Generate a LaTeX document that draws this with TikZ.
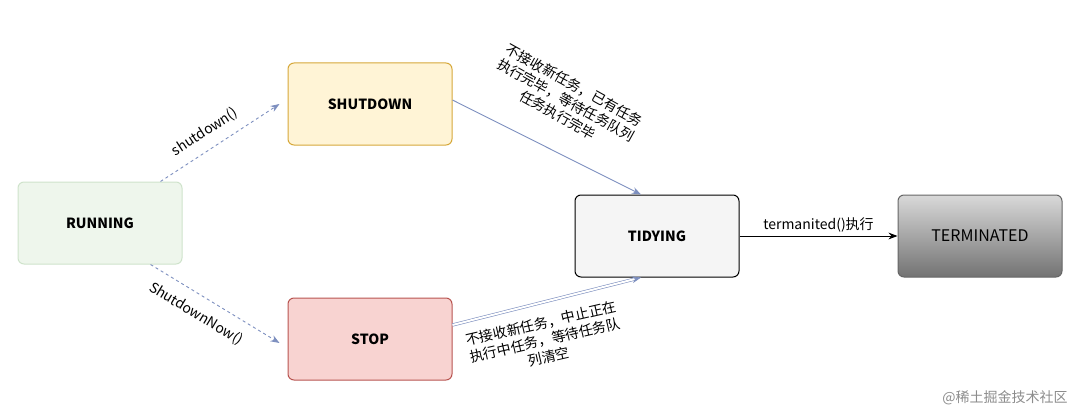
\documentclass[tikz,border=0pt]{standalone}
\usepackage{fontspec}
\setmainfont{Noto Sans CJK SC}
\usetikzlibrary{positioning,arrows.meta}
\definecolor{runfill}{HTML}{EEF6EC}
\definecolor{runline}{HTML}{CFE3CB}
\definecolor{shutfill}{HTML}{FFF4D6}
\definecolor{shutline}{HTML}{D6A83A}
\definecolor{stopfill}{HTML}{F8D3D1}
\definecolor{stopline}{HTML}{B85450}
\definecolor{edgeblue}{HTML}{7D8FBF}
\tikzset{
	state/.style = {draw, rounded corners=6pt, line width=1pt, minimum width=164pt, minimum height=82pt, font=\bfseries\fontsize{14}{16}\selectfont},
	flow/.style  = {-{Stealth[length=9pt]}, edgeblue, line width=0.9pt},
	note/.style  = {font=\fontsize{14}{17}\selectfont, align=center, inner sep=1pt},
}
\begin{document}
\begin{tikzpicture}[x=1pt, y=-1pt]
		\useasboundingbox (0,0) rectangle (1080,420);
		% Draw the state nodes
		\node[state, draw=runline, fill=runfill] (running) at (100,223) {RUNNING};
		\node[state, draw=shutline, fill=shutfill] (shutdown) at (370,104) {SHUTDOWN};
		\node[state, draw=stopline, fill=stopfill] (stop) at (370,339) {STOP};
		\node[state, draw=black, fill=black!4] (tidying) at (657,236) {TIDYING};
		\node[state, draw=black!60, top color=black!15, bottom color=black!55, font=\fontsize{16}{18}\selectfont] (terminated) at (980,236) {TERMINATED};

		% Connect everything together
		\draw[flow, dashed] (running.north east) ++(-22pt,0) coordinate (r1) -- ([xshift=-8pt]shutdown.west);
		\draw[flow, dashed] (running.south east) ++(-32pt,0) coordinate (r2) -- ([xshift=-8pt,yshift=-4pt]stop.west);
		\draw[flow] ([yshift=4pt]shutdown.east) -- ([xshift=-16pt]tidying.north);
		\draw[flow, double, double distance=2pt, line width=0.6pt] ([yshift=14pt]stop.east) -- ([xshift=-16pt]tidying.south);
		\draw[-{Stealth[length=9pt]}, black, line width=1pt] (tidying) -- (terminated) node[midway, above, font=\fontsize{14}{16}\selectfont] {termanited()执行};

		% Labels
		\node[note, rotate=33] (shutlabel) at (205,132) {shutdown()};
		\node[note, rotate=-31] (nowlabel) at (196,314) {ShutdownNow()};
		\node[note, rotate=-29] (shutnote) at (566,100) {不接收新任务，已有任务\\执行完毕，等待任务队列\\任务执行完毕};
		\node[note, rotate=13] (stopnote) at (545,340) {不接收新任务，中止正在\\执行中任务，等待任务队\\列清空};
		\node[font=\fontsize{14}{16}\selectfont, text=black!45] (mark) at (1005,398) {@稀土掘金技术社区};
\end{tikzpicture}
\end{document}
